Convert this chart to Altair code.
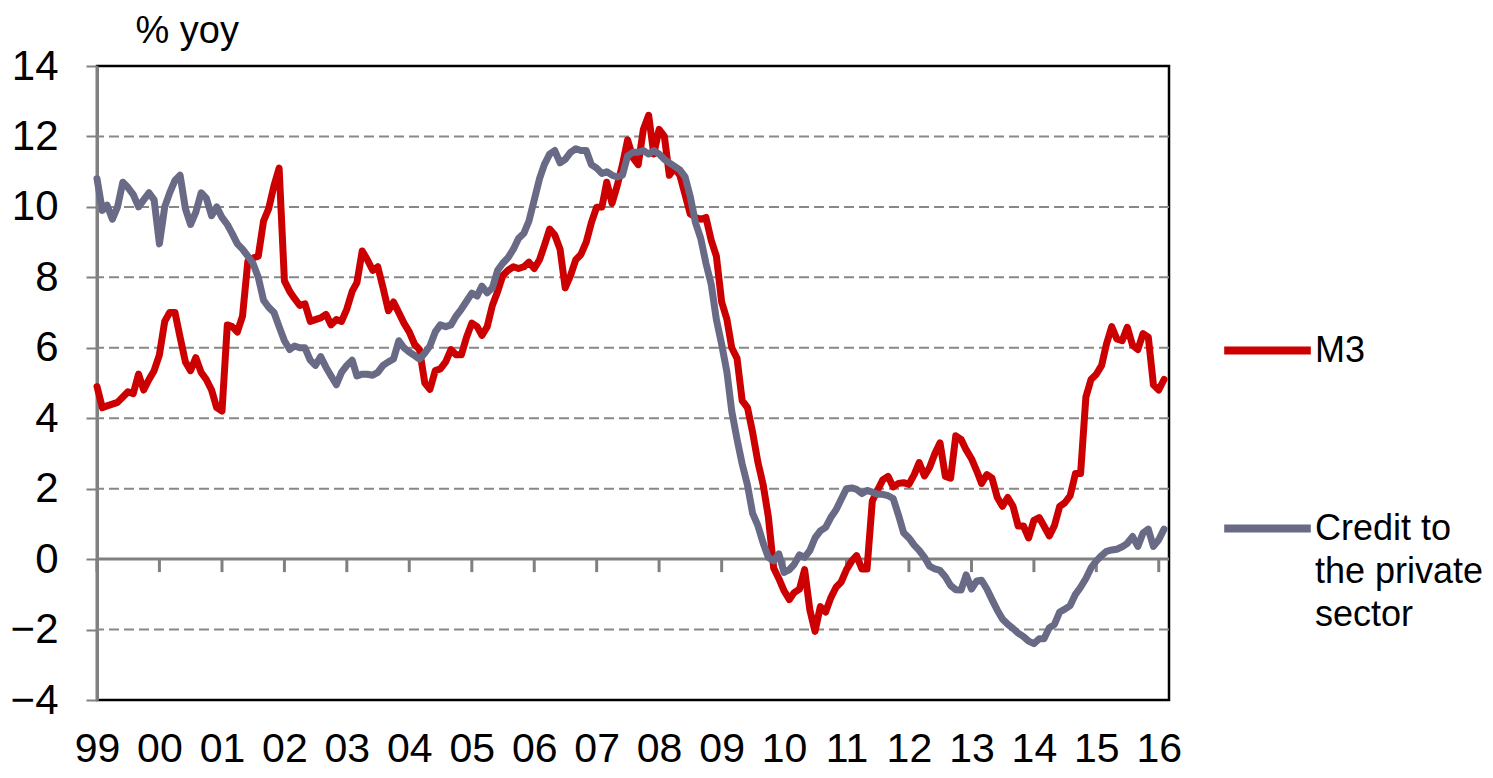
import altair as alt
import pandas as pd

# ---- data (monthly, Jan 1999 .. Feb 2016), % yoy ----
m3 = [
    4.9, 4.3, 4.35, 4.4, 4.45, 4.6, 4.75, 4.7, 5.25, 4.8, 5.1, 5.35,
    5.8, 6.75, 7.0, 7.0, 6.3, 5.6, 5.35, 5.72, 5.3, 5.1, 4.8, 4.3,
    4.2, 6.65, 6.6, 6.45, 6.9, 8.45, 8.55, 8.6, 9.6, 9.95, 10.6, 11.1,
    7.9, 7.6, 7.4, 7.2, 7.25, 6.75, 6.8, 6.85, 6.95, 6.65, 6.8, 6.75,
    7.1, 7.6, 7.85, 8.75, 8.5, 8.2, 8.3, 7.7, 7.05, 7.3, 7.0, 6.7,
    6.45, 6.1, 5.95, 5.0, 4.82, 5.35, 5.4, 5.6, 5.95, 5.8, 5.8, 6.3,
    6.7, 6.6, 6.35, 6.6, 7.2, 7.6, 8.05, 8.2, 8.3, 8.25, 8.3, 8.43,
    8.25, 8.5, 8.9, 9.37, 9.2, 8.8, 7.7, 8.05, 8.5, 8.65, 9.0, 9.55,
    9.99, 10.0, 10.7, 10.1, 10.6, 11.2, 11.9, 11.4, 11.2, 12.2, 12.6, 11.5,
    12.2, 12.0, 10.9, 11.1, 10.9, 10.35, 9.8, 9.7, 9.65, 9.7, 9.05, 8.6,
    7.3, 6.8, 6.0, 5.7, 4.5, 4.3, 3.6, 2.75, 2.1, 1.2, -0.25, -0.55,
    -0.9, -1.15, -0.95, -0.85, -0.3, -1.45, -2.05, -1.35, -1.5, -1.1, -0.8, -0.65,
    -0.3, -0.05, 0.1, -0.28, -0.28, 1.65, 1.95, 2.25, 2.35, 2.05, 2.15, 2.17,
    2.12, 2.4, 2.74, 2.36, 2.6, 3.0, 3.3, 2.35, 2.3, 3.5, 3.4, 3.1,
    2.85, 2.5, 2.15, 2.4, 2.3, 1.75, 1.5, 1.75, 1.5, 0.94, 0.94, 0.6,
    1.1, 1.18, 0.94, 0.66, 0.95, 1.5, 1.6, 1.8, 2.43, 2.43, 4.6, 5.1,
    5.25, 5.5, 6.1, 6.6, 6.25, 6.2, 6.58, 6.07, 5.95, 6.4, 6.3, 4.95,
    4.8, 5.1,
]
credit = [
    10.8, 9.9, 10.05, 9.65, 10.0, 10.7, 10.55, 10.35, 10.0, 10.2, 10.4, 10.2,
    8.95, 10.0, 10.4, 10.75, 10.9, 9.95, 9.5, 9.85, 10.4, 10.25, 9.75, 10.0,
    9.7, 9.5, 9.25, 8.95, 8.8, 8.6, 8.4, 8.0, 7.35, 7.15, 7.0, 6.6,
    6.2, 5.95, 6.05, 6.0, 6.0, 5.65, 5.5, 5.75, 5.45, 5.2, 4.95, 5.3,
    5.5, 5.65, 5.2, 5.25, 5.25, 5.22, 5.3, 5.5, 5.6, 5.68, 6.2, 6.0,
    5.88, 5.78, 5.68, 5.85, 6.05, 6.45, 6.65, 6.6, 6.65, 6.9, 7.1, 7.32,
    7.55, 7.47, 7.75, 7.56, 7.7, 8.2, 8.4, 8.56, 8.8, 9.1, 9.25, 9.6,
    10.2, 10.8, 11.2, 11.5, 11.6, 11.25, 11.35, 11.55, 11.65, 11.6, 11.6, 11.2,
    11.1, 10.95, 11.0, 10.9, 10.85, 10.9, 11.45, 11.55, 11.55, 11.6, 11.5, 11.6,
    11.5, 11.35, 11.25, 11.15, 11.05, 10.85, 10.3, 9.55, 9.1, 8.4, 7.8, 6.8,
    6.1, 5.3, 4.2, 3.4, 2.7, 2.1, 1.3, 0.95, 0.45, 0.05, -0.05, 0.15,
    -0.38, -0.3, -0.15, 0.12, 0.05, 0.25, 0.6, 0.8, 0.9, 1.18, 1.4, 1.7,
    2.0, 2.02, 1.98, 1.86, 1.95, 1.9, 1.84, 1.84, 1.8, 1.72, 1.25, 0.75,
    0.6, 0.4, 0.25, 0.05, -0.2, -0.28, -0.32, -0.5, -0.75, -0.87, -0.88, -0.45,
    -0.85, -0.62, -0.6, -0.85, -1.15, -1.45, -1.7, -1.85, -1.97, -2.1, -2.2, -2.33,
    -2.4, -2.26, -2.26, -1.95, -1.85, -1.5, -1.42, -1.32, -1.0, -0.8, -0.55, -0.25,
    -0.05, 0.1, 0.22, 0.26, 0.28, 0.35, 0.45, 0.64, 0.36, 0.74, 0.85, 0.36,
    0.55, 0.85,
]
series_names = ["M3", "Credit to the private sector"]
series_colors = ["#CC0000", "#696A86"]
tick_years = list(range(1999, 2017))
y_tick_values = [-4, -2, 0, 2, 4, 6, 8, 10, 12, 14]
grid_values = [-2, 2, 4, 6, 8, 10, 12]
zero_line = [0]

FONT = "Liberation Sans"
GREY = "#808080"

dates = pd.date_range("1999-01-01", periods=len(m3), freq="MS").strftime("%Y-%m-%d")
df = pd.DataFrame({
    "date": list(dates) * 2,
    "value": m3 + credit,
    "series": [series_names[0]] * len(m3) + [series_names[1]] * len(credit),
})
ticks_df = pd.DataFrame({"date": [f"{y}-01-01" for y in tick_years]})
grid_df = pd.DataFrame({"value": grid_values})
zero_df = pd.DataFrame({"value": zero_line})

x_scale = alt.Scale(domain=[alt.DateTime(year=1999, month=1, date=1),
                            alt.DateTime(year=2016, month=3, date=1)])
y_scale = alt.Scale(domain=[-4, 14], nice=False, zero=False)

x_axis = alt.Axis(
    values=[alt.DateTime(year=y, month=1, date=1) for y in tick_years],
    format="%y", title=None, domain=False, ticks=False, grid=False,
    labelFontSize=41, labelFont=FONT, labelColor="black", labelPadding=29,
    labelFlush=False, labelOverlap=False,
)
y_axis = alt.Axis(
    values=y_tick_values, title="% yoy", titleAngle=0, titleAlign="left",
    titleBaseline="alphabetic", titleX=38, titleY=-24, titleFontSize=38,
    titleFont=FONT, titleFontWeight="normal", titleColor="black",
    labelFontSize=42, labelFont=FONT, labelColor="black", labelPadding=28,
    tickSize=11, tickColor=GREY, tickWidth=2, domainColor=GREY, domainWidth=3,
    grid=False,
)

X = alt.X("date:T", scale=x_scale, axis=x_axis)
Y = alt.Y("value:Q", scale=y_scale, axis=y_axis)

color = alt.Color(
    "series:N",
    scale=alt.Scale(domain=series_names, range=series_colors),
    legend=alt.Legend(
        orient="none", legendX=1123, legendY=237, title=None,
        symbolType="stroke", symbolSize=7500, symbolStrokeWidth=8,
        labelFontSize=36, labelFont=FONT, labelColor="black", labelOffset=0,
        labelLimit=0, rowPadding=112,
        labelExpr="datum.label == 'M3' ? 'M3' : ['Credit to', 'the private', 'sector']",
    ),
)

grid = alt.Chart(grid_df).mark_rule(
    color="#888888", strokeWidth=2, strokeDash=[10, 5]
).encode(y=Y)

zero = alt.Chart(zero_df).mark_rule(color=GREY, strokeWidth=3).encode(y=Y)

year_ticks = alt.Chart(ticks_df).mark_rule(
    color=GREY, strokeWidth=3, y2Offset=13
).encode(x=X, y=alt.datum(0), y2=alt.datum(0))

line_m3 = alt.Chart(df).transform_filter(
    alt.datum.series == series_names[0]
).mark_line(strokeWidth=7, strokeCap="round", strokeJoin="round").encode(
    x=X, y=Y, color=color
)
line_credit = alt.Chart(df).transform_filter(
    alt.datum.series == series_names[1]
).mark_line(strokeWidth=7, strokeCap="round", strokeJoin="round").encode(
    x=X, y=Y, color=color
)

chart = alt.layer(grid, zero, year_ticks, line_m3, line_credit).properties(
    width=1072, height=634,
    padding={"left": 89, "top": 58, "right": 316, "bottom": 70},
    autosize=alt.AutoSizeParams(type="none"),
).configure(
    font=FONT, style={"guide-label": {"lineHeight": 43}}
).configure_view(stroke="black", strokeWidth=2.5)

chart.save("out.html", embed_options={"renderer": "svg", "actions": False})
